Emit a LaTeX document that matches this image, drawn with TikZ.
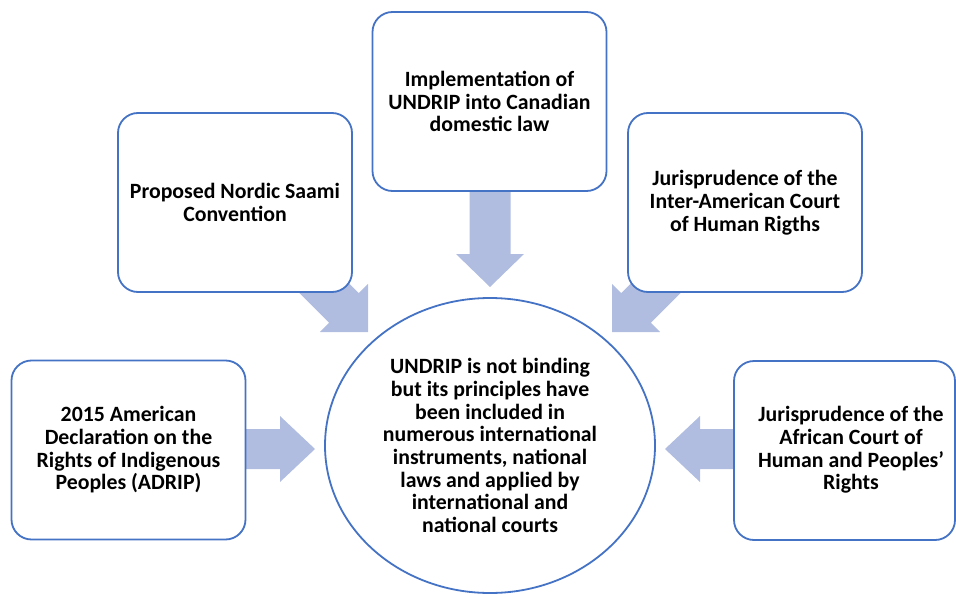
\documentclass[tikz,border=0pt]{standalone}
\usepackage{fontspec}
\setmainfont{Carlito}
\usetikzlibrary{shapes.geometric}
\definecolor{boxblue}{HTML}{4472C4}
\definecolor{arrowfill}{HTML}{B0BDE0}
\begin{document}
\begin{tikzpicture}[x=1pt,y=-1pt,
  lbl/.style={align=center, font=\fontsize{21.8}{22.7}\selectfont\bfseries, text=black},
  box/.style={lbl, draw=boxblue, line width=1.8pt, fill=white, rounded corners=20pt,
              minimum width=234pt, minimum height=179pt, inner sep=0pt},
  hub/.style={lbl, ellipse, draw=boxblue, line width=1.8pt, fill=white,
              minimum width=330pt, minimum height=295pt, inner sep=0pt},
  blockarrow/.style={fill=arrowfill}]
\useasboundingbox (0,0) rectangle (956,594);
% arrow tips
\coordinate (tipT) at (490,287);
\coordinate (tipNW) at (368,332);
\coordinate (tipNE) at (612,332);
\coordinate (tipW) at (315,449);
\coordinate (tipE) at (665,449);
% block arrows (drawn first, boxes cover their tails)
\fill[blockarrow, shift={(tipT)}, rotate=-90] (0,0) -- (-33,34) -- (-33,20.5) -- (-100,20.5) -- (-100,-20.5) -- (-33,-20.5) -- (-33,-34) -- cycle;
\fill[blockarrow, shift={(tipNW)}, rotate=-45] (0,0) -- (-34,34) -- (-34,21) -- (-100,21) -- (-100,-21) -- (-34,-21) -- (-34,-34) -- cycle;
\fill[blockarrow, shift={(tipNE)}, rotate=-135] (0,0) -- (-34,34) -- (-34,21) -- (-100,21) -- (-100,-21) -- (-34,-21) -- (-34,-34) -- cycle;
\fill[blockarrow, shift={(tipW)}, rotate=0] (0,0) -- (-35,33) -- (-35,20) -- (-80,20) -- (-80,-20) -- (-35,-20) -- (-35,-33) -- cycle;
\fill[blockarrow, shift={(tipE)}, rotate=180] (0,0) -- (-35,33) -- (-35,20) -- (-80,20) -- (-80,-20) -- (-35,-20) -- (-35,-33) -- cycle;
% boxes
\node[box] (b1) at (489.5,101.5) {Implementation of\\UNDRIP into Canadian\\domestic law};
\node[box] (b2) at (235,202.5) {Proposed Nordic Saami\\Convention};
\node[box] (b3) at (745,202.5) {Jurisprudence of the\\Inter-American Court\\of Human Rigths};
\node[box] (b4) at (128.5,450) {2015 American\\Declaration on the\\Rights of Indigenous\\Peoples (ADRIP)};
\node[box, minimum width=221pt] (b5) at (844.5,450.5) {};
\node[lbl] (b5t) at (851,450) {Jurisprudence of the\\African Court of\\Human and Peoples’\\Rights};
% central ellipse
\node[hub] (hub) at (490,445.5) {UNDRIP is not binding\\but its principles have\\been included in\\numerous international\\instruments, national\\laws and applied by\\international and\\national courts};
\end{tikzpicture}
\end{document}
